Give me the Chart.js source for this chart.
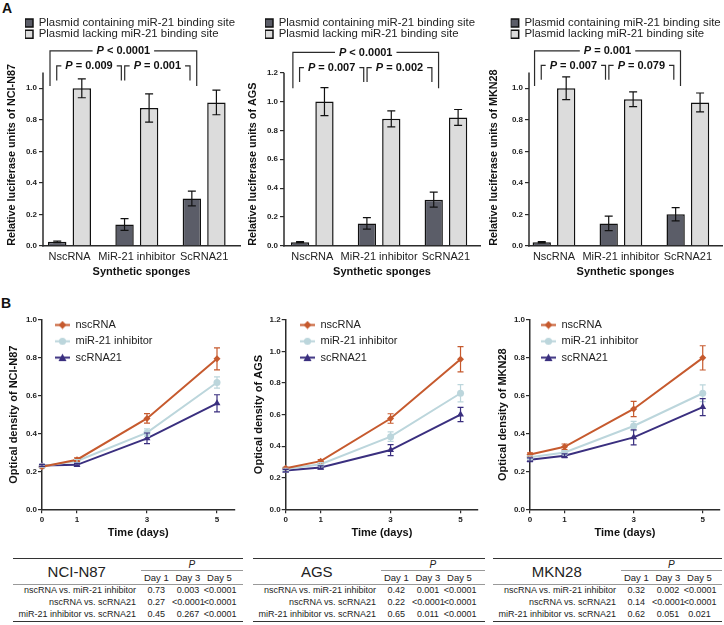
<!DOCTYPE html>
<html>
<head>
<meta charset="utf-8">
<script src="https://cdn.jsdelivr.net/npm/chart.js@4.4.1/dist/chart.umd.min.js"></script>
<style>
  body { margin: 0; background: #fff; font-family: "Liberation Sans", Arial, sans-serif; color: #222; }
  #page { position: relative; width: 724px; height: 625px; overflow: hidden; }
  canvas { position: absolute; }
  .tag { position: absolute; font-weight: bold; font-size: 14px; color: #111; }
  table { position: absolute; top: 558px; border-collapse: collapse; table-layout: fixed;
          border-top: 1px solid #333; border-bottom: 1px solid #333; color: #222; }
  td { padding: 0; text-align: center; line-height: 1; white-space: nowrap; }
  .r1 { height: 12px; }
  .pp { border-bottom: 1px solid #999; font-size: 10px; }
  .r2 { height: 14px; }
  .r2 td, .nm { border-bottom: 1px solid #999; }
  .nm { font-size: 15px; vertical-align: middle; }
  .dh { font-size: 9.5px; }
  .rd { height: 12.2px; }
  .rd td { font-size: 9px; }
  .cmp { text-align: right !important; padding-right: 4.5px; }
</style>
</head>
<body>
<div id="page">
  <div class="tag" style="left:2px;top:0px">A</div>
  <div class="tag" style="left:1px;top:295px">B</div>
  <canvas id="a1" width="242" height="266" style="left:0px;top:14px"></canvas>
  <canvas id="a2" width="240" height="266" style="left:242px;top:14px"></canvas>
  <canvas id="a3" width="240" height="266" style="left:484px;top:14px"></canvas>
  <canvas id="b1" width="242" height="227" style="left:0px;top:314px"></canvas>
  <canvas id="b2" width="240" height="227" style="left:242px;top:314px"></canvas>
  <canvas id="b3" width="240" height="227" style="left:484px;top:314px"></canvas>
  <div id="tables"></div>
</div>
<script>
// ---- panel A data ----
const spongeLabels = ["NscRNA", "MiR-21 inhibitor", "ScRNA21"];
const plasmidLabels = ["Plasmid containing miR-21 binding site", "Plasmid lacking miR-21 binding site"];
const luciferaseTicks = [0, 0.2, 0.4, 0.6, 0.8, 1.0];
const luciferaseTicksAgs = [0, 0.2, 0.4, 0.6, 0.8, 1.0, 1.2];

const n87With = [0.025, 0.135, 0.30];
const n87WithErr = [0.005, 0.037, 0.047];
const n87Without = [1.0, 0.875, 0.91];
const n87WithoutErr = [0.06, 0.09, 0.078];
const n87P = ["< 0.0001", "= 0.009", "= 0.001"];

const agsWith = [0.025, 0.155, 0.32];
const agsWithErr = [0.004, 0.04, 0.052];
const agsWithout = [1.0, 0.88, 0.89];
const agsWithoutErr = [0.097, 0.055, 0.055];
const agsP = ["< 0.0001", "= 0.007", "= 0.002"];

const mknWith = [0.022, 0.142, 0.20];
const mknWithErr = [0.004, 0.046, 0.042];
const mknWithout = [1.0, 0.93, 0.91];
const mknWithoutErr = [0.072, 0.047, 0.06];
const mknP = ["= 0.001", "= 0.007", "= 0.079"];

// ---- panel B data ----
const days = [0, 1, 3, 5];
const seriesNames = ["nscRNA", "miR-21 inhibitor", "scRNA21"];
const densityTicks = [0, 0.2, 0.4, 0.6, 0.8, 1.0];
const densityTicksAgs = [0, 0.2, 0.4, 0.6, 0.8, 1.0, 1.2];

const n87Nsc = [0.225, 0.262, 0.48, 0.795];
const n87NscErr = [0.005, 0.01, 0.025, 0.058];
const n87Inh = [0.228, 0.255, 0.405, 0.67];
const n87InhErr = [0.005, 0.008, 0.02, 0.03];
const n87Sc = [0.232, 0.235, 0.375, 0.56];
const n87ScErr = [0.005, 0.008, 0.028, 0.045];

const agsNsc = [0.26, 0.305, 0.575, 0.95];
const agsNscErr = [0.005, 0.01, 0.03, 0.08];
const agsInh = [0.255, 0.285, 0.46, 0.735];
const agsInhErr = [0.005, 0.01, 0.03, 0.055];
const agsSc = [0.245, 0.265, 0.375, 0.6];
const agsScErr = [0.008, 0.01, 0.035, 0.045];

const mknNsc = [0.29, 0.33, 0.53, 0.80];
const mknNscErr = [0.008, 0.015, 0.04, 0.064];
const mknInh = [0.275, 0.30, 0.44, 0.613];
const mknInhErr = [0.008, 0.01, 0.025, 0.044];
const mknSc = [0.262, 0.283, 0.38, 0.54];
const mknScErr = [0.01, 0.01, 0.04, 0.045];

// ---- tables ----
const comparisons = ["nscRNA vs. miR-21 inhibitor", "nscRNA vs. scRNA21", "miR-21 inhibitor vs. scRNA21"];
const dayHeads = ["Day 1", "Day 3", "Day 5"];
const n87Table = [["0.73", "0.003", "<0.0001"], ["0.27", "<0.0001", "<0.0001"], ["0.45", "0.267", "<0.0001"]];
const agsTable = [["0.42", "0.001", "<0.0001"], ["0.22", "<0.0001", "<0.0001"], ["0.65", "0.011", "<0.0001"]];
const mknTable = [["0.32", "0.002", "<0.0001"], ["0.14", "<0.0001", "<0.0001"], ["0.62", "0.051", "0.021"]];

const FONT = '"Liberation Sans", Arial, Helvetica, sans-serif';
Chart.defaults.font.family = FONT;
Chart.defaults.color = "#222";
const INK = "#2b2b2b";
const tickFont = { size: 8, weight: "bold" };
const lineColors = ["#c65a2e", "#bcd6dc", "#3a2f7f"];
const lineMarkers = ["rectRot", "circle", "triangle"];

const toPoints = (xs, ys) => xs.map((x, i) => ({ x: x, y: ys[i] }));
const fixedTicks = (values) => (s) => { s.ticks = values.map((v) => ({ value: v })); };

const figurePlugin = {
  id: "figure",
  afterLayout(chart, args, opts) {
    const lg = chart.legend;
    if (!opts.legendAt || !lg) return;
    lg.left = opts.legendAt[0];
    lg.right = lg.left + lg.width;
    lg.top = opts.legendAt[1];
    lg.bottom = lg.top + lg.height;
  },
  afterDatasetsDraw(chart, args, opts) {
    const ctx = chart.ctx;
    const xs = chart.scales.x;
    const ys = chart.scales.y;
    ctx.save();

    if (opts.axisTop !== undefined) {
      const ax = chart.chartArea.left;
      ctx.strokeStyle = INK;
      ctx.lineWidth = 1.5;
      ctx.beginPath();
      ctx.moveTo(ax, ys.getPixelForValue(0) + 0.75);
      ctx.lineTo(ax, ys.getPixelForValue(opts.axisTop));
      ctx.stroke();
    }

    chart.data.datasets.forEach((ds, i) => {
      if (!ds.errors) return;
      const meta = chart.getDatasetMeta(i);
      ctx.strokeStyle = ds.errorColor || "#111";
      ctx.lineWidth = 1.2;
      meta.data.forEach((el, j) => {
        const v = ds.data[j].y;
        const e = ds.errors[j];
        const y1 = ys.getPixelForValue(v + e);
        const y2 = ys.getPixelForValue(v - e);
        ctx.beginPath();
        ctx.moveTo(el.x, y1);
        ctx.lineTo(el.x, y2);
        ctx.moveTo(el.x - opts.cap, y1);
        ctx.lineTo(el.x + opts.cap, y1);
        ctx.moveTo(el.x - opts.cap, y2);
        ctx.lineTo(el.x + opts.cap, y2);
        ctx.stroke();
      });
    });

    (opts.brackets || []).forEach((b) => {
      const x0 = xs.getPixelForValue(b.from);
      const x1 = xs.getPixelForValue(b.to);
      const yt = ys.getPixelForValue(b.top);
      const yl = ys.getPixelForValue(b.leg);
      const mid = (x0 + x1) / 2;
      ctx.font = "italic bold 11px " + FONT;
      const wP = ctx.measureText("P").width;
      ctx.font = "bold 11px " + FONT;
      const rest = " " + b.text;
      const w = wP + ctx.measureText(rest).width;
      const tx = mid - w / 2;
      ctx.strokeStyle = INK;
      ctx.lineWidth = 1.2;
      ctx.beginPath();
      ctx.moveTo(x0, yl);
      ctx.lineTo(x0, yt);
      ctx.lineTo(tx - 4, yt);
      ctx.moveTo(tx + w + 4, yt);
      ctx.lineTo(x1, yt);
      ctx.lineTo(x1, yl);
      ctx.stroke();
      ctx.fillStyle = "#111";
      ctx.textBaseline = "middle";
      ctx.textAlign = "left";
      ctx.font = "italic bold 11px " + FONT;
      ctx.fillText("P", tx, yt + 0.5);
      ctx.font = "bold 11px " + FONT;
      ctx.fillText(rest, tx + wP, yt + 0.5);
    });
    ctx.restore();
  },
};

const yTitle = (text, size, pad, align) => ({
  display: true,
  text: text,
  align: align,
  font: { size: size, weight: "bold" },
  color: "#111",
  padding: { top: pad, bottom: 0 },
});

const drawBarChart = (id, withVals, withErr, withoutVals, withoutErr, pLabels, title, yTicks, geo) => {
  const idx = spongeLabels.map((s, i) => i);
  const [bigTop, bigLeg, smallTop, smallLeg] = geo.levels;
  return new Chart(document.getElementById(id), {
    type: "bar",
    data: {
      datasets: [
        {
          label: plasmidLabels[0],
          data: toPoints(idx, withVals),
          errors: withErr,
          backgroundColor: "#5b5d68",
          borderColor: "#111",
          borderWidth: 1.5,
          categoryPercentage: 0.73,
          barPercentage: 0.75,
        },
        {
          label: plasmidLabels[1],
          data: toPoints(idx, withoutVals),
          errors: withoutErr,
          backgroundColor: "#dcdcdc",
          borderColor: "#111",
          borderWidth: 1.5,
          categoryPercentage: 0.73,
          barPercentage: 0.75,
        },
      ],
    },
    options: {
      responsive: false,
      animation: false,
      layout: { padding: { top: 0, right: 2, bottom: 0, left: 0 } },
      plugins: {
        tooltip: { enabled: false },
        legend: {
          position: "chartArea",
          align: "start",
          maxWidth: 400,
          labels: { boxWidth: 8, boxHeight: 8, padding: 0, color: "#222", font: { size: 11.4 } },
        },
        figure: {
          legendAt: geo.legendAt,
          axisTop: geo.axisTop,
          cap: 4,
          brackets: [
            { from: -0.29, to: 1.89, top: bigTop, leg: bigLeg, text: pLabels[0] },
            { from: -0.19, to: 0.77, top: smallTop, leg: smallLeg, text: pLabels[1] },
            { from: 0.82, to: 1.79, top: smallTop, leg: smallLeg, text: pLabels[2] },
          ],
        },
      },
      scales: {
        x: {
          type: "linear",
          offset: false,
          min: geo.xRange[0],
          max: geo.xRange[1],
          afterFit: (s) => { s.height = 34.2; s.paddingLeft = 0; s.paddingRight = 0; },
          afterBuildTicks: fixedTicks(idx),
          grid: { display: false, drawTicks: false, offset: false },
          border: { display: true, color: INK, width: 1.5 },
          ticks: {
            autoSkip: false,
            maxRotation: 0,
            padding: 4.6,
            color: "#222",
            font: { size: 11 },
            callback: (v) => spongeLabels[Math.round(v)],
          },
          title: { display: true, text: "Synthetic sponges", font: { size: 11, weight: "bold" }, color: "#111", padding: { top: 0, bottom: 1.4 } },
        },
        y: {
          min: 0,
          max: geo.yMax,
          afterFit: (s) => { s.width = geo.yWidth; s.paddingTop = 0; s.paddingBottom = 0; },
          afterBuildTicks: fixedTicks(yTicks),
          grid: { display: true, drawOnChartArea: false, tickLength: 4, color: INK, lineWidth: 1.2 },
          border: { display: false },
          ticks: { padding: 2, font: tickFont, color: "#222", callback: (v) => v.toFixed(1) },
          title: yTitle(title, 10.8, geo.titlePad, "start"),
        },
      },
    },
    plugins: [figurePlugin],
  });
};

const legendIcon = (color, marker) => {
  const c = document.createElement("canvas");
  c.width = 15;
  c.height = 9;
  const g = c.getContext("2d");
  g.strokeStyle = color;
  g.fillStyle = color;
  g.lineWidth = 2;
  g.beginPath();
  g.moveTo(0, 4.5);
  g.lineTo(15, 4.5);
  g.stroke();
  g.beginPath();
  if (marker === "rectRot") {
    g.moveTo(7.5, 0.5); g.lineTo(11.5, 4.5); g.lineTo(7.5, 8.5); g.lineTo(3.5, 4.5);
  } else if (marker === "circle") {
    g.arc(7.5, 4.5, 3.6, 0, Math.PI * 2);
  } else {
    g.moveTo(7.5, 0.5); g.lineTo(11.5, 8); g.lineTo(3.5, 8);
  }
  g.closePath();
  g.fill();
  return c;
};
const legendIcons = lineColors.map((c, i) => legendIcon(c, lineMarkers[i]));

const drawLineChart = (id, series, errs, title, yTicks, geo) => {
  return new Chart(document.getElementById(id), {
    type: "line",
    data: {
      datasets: series.map((vals, i) => ({
        label: seriesNames[i],
        data: toPoints(days, vals),
        errors: errs[i],
        errorColor: lineColors[i],
        borderColor: lineColors[i],
        backgroundColor: lineColors[i],
        pointBackgroundColor: lineColors[i],
        pointBorderWidth: 0,
        pointStyle: lineMarkers[i],
        pointRadius: i === 2 ? 4 : 3.5,
        borderWidth: 2,
        tension: 0,
        clip: false,
      })),
    },
    options: {
      responsive: false,
      animation: false,
      layout: { padding: { top: geo.padTop, right: geo.padRight, bottom: 0, left: 0 } },
      plugins: {
        tooltip: { enabled: false },
        legend: {
          position: "chartArea",
          align: "start",
          maxWidth: 400,
          labels: {
            usePointStyle: true,
            pointStyleWidth: 15,
            padding: 5.3,
            color: "#222",
            font: { size: 11 },
            generateLabels: (chart) =>
              Chart.defaults.plugins.legend.labels.generateLabels(chart).map((l, i) => ({ ...l, pointStyle: legendIcons[i] })),
          },
        },
        figure: { legendAt: geo.legendAt, cap: 3 },
      },
      scales: {
        x: {
          type: "linear",
          min: 0,
          max: 5.5,
          afterFit: (s) => { s.height = geo.xHeight; },
          afterBuildTicks: fixedTicks(days),
          grid: { display: true, drawOnChartArea: false, tickLength: 4, color: INK, lineWidth: 1.2 },
          border: { display: true, color: INK, width: 1.5 },
          ticks: { autoSkip: false, maxRotation: 0, padding: 2, font: tickFont, color: "#222" },
          title: { display: true, text: "Time (days)", font: { size: 11, weight: "bold" }, color: "#111", padding: { top: 0, bottom: 1.7 } },
        },
        y: {
          min: 0,
          max: geo.yMax,
          afterFit: (s) => { s.width = geo.yWidth; },
          afterBuildTicks: fixedTicks(yTicks),
          grid: { display: true, drawOnChartArea: false, tickLength: 4, color: INK, lineWidth: 1.2 },
          border: { display: true, color: INK, width: 1.5 },
          ticks: { padding: 1, font: tickFont, color: "#222", callback: (v) => v.toFixed(1) },
          title: yTitle(title, 11, geo.titlePad, "center"),
        },
      },
    },
    plugins: [figurePlugin],
  });
};

drawBarChart("a1", n87With, n87WithErr, n87Without, n87WithoutErr, n87P,
  "Relative luciferase units of NCI-N87", luciferaseTicks,
  { yMax: 1.4717, axisTop: 1.1, yWidth: 43, titlePad: 5.5, xRange: [-0.394, 2.533],
    legendAt: [25, 3.2], levels: [1.237, 1.015, 1.142, 1.05] });
drawBarChart("a2", agsWith, agsWithErr, agsWithout, agsWithoutErr, agsP,
  "Relative luciferase units of AGS", luciferaseTicksAgs,
  { yMax: 1.607, axisTop: 1.2, yWidth: 42, titlePad: 4.5, xRange: [-0.423, 2.51],
    legendAt: [23, 3.2], levels: [1.341, 1.092, 1.235, 1.136] });
drawBarChart("a3", mknWith, mknWithErr, mknWithout, mknWithoutErr, mknP,
  "Relative luciferase units of MKN28", luciferaseTicks,
  { yMax: 1.4717, axisTop: 1.1, yWidth: 45, titlePad: 3.5, xRange: [-0.373, 2.51],
    legendAt: [26.7, 3.2], levels: [1.237, 1.015, 1.145, 1.054] });

drawLineChart("b1", [n87Nsc, n87Inh, n87Sc], [n87NscErr, n87InhErr, n87ScErr], "Optical density of NCI-N87", densityTicks,
  { yMax: 1.0, yWidth: 42, padTop: 6, padRight: 7.5, xHeight: 31.7, titlePad: 7.5, legendAt: [49.7, 0.2] });
drawLineChart("b2", [agsNsc, agsInh, agsSc], [agsNscErr, agsInhErr, agsScErr], "Optical density of AGS", densityTicksAgs,
  { yMax: 1.2, yWidth: 43.7, padTop: 5.7, padRight: 3.8, xHeight: 31.7, titlePad: 10.5, legendAt: [52.7, 0.2] });
drawLineChart("b3", [mknNsc, mknInh, mknSc], [mknNscErr, mknInhErr, mknScErr], "Optical density of MKN28", densityTicks,
  { yMax: 1.0, yWidth: 46, padTop: 6, padRight: 1.5, xHeight: 31.7, titlePad: 12, legendAt: [51.7, 0.2] });

// ---- p-value tables ----
const buildTable = (name, rows, left, width) => {
  let html = `<table style="left:${left}px;width:${width}px"><colgroup><col style="width:127.5px">` +
    `<col style="width:31.6px"><col style="width:31.6px"><col style="width:31.6px"><col></colgroup>`;
  html += `<tr class="r1"><td rowspan="2" class="nm">${name}</td><td colspan="4" class="pp"><i>P</i></td></tr>`;
  html += `<tr class="r2">` + dayHeads.map((d) => `<td class="dh">${d}</td>`).join("") + `<td></td></tr>`;
  rows.forEach((r, i) => {
    html += `<tr class="rd"><td class="cmp">${comparisons[i]}</td>` + r.map((v) => `<td>${v}</td>`).join("") + `<td></td></tr>`;
  });
  return html + `</table>`;
};
document.getElementById("tables").innerHTML =
  buildTable("NCI-N87", n87Table, 13, 230) +
  buildTable("AGS", agsTable, 253, 232) +
  buildTable("MKN28", mknTable, 493, 229);
</script>
</body>
</html>
